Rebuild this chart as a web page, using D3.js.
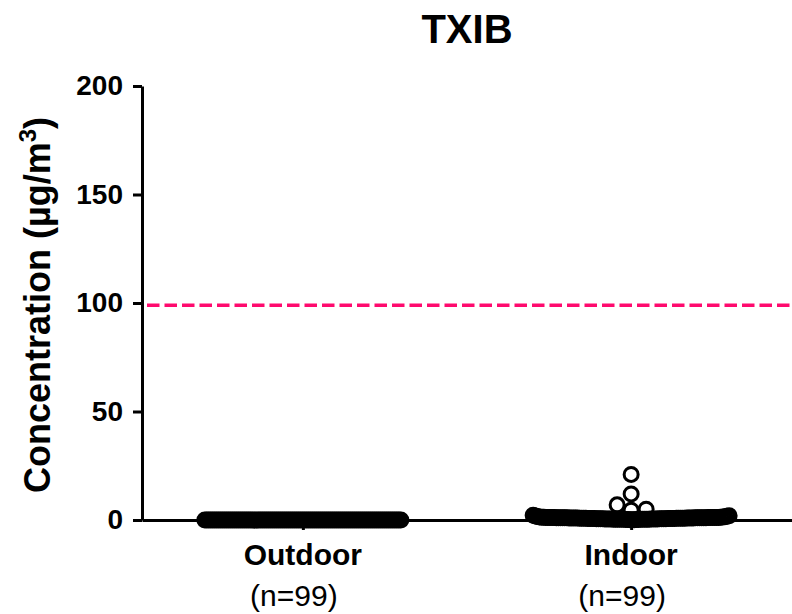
<!DOCTYPE html>
<html>
<head>
<meta charset="utf-8">
<script src="https://cdn.jsdelivr.net/npm/d3@7"></script>
<style>
  body { margin: 0; background: #fff; }
  svg { display: block; font-family: "Liberation Sans", Arial, sans-serif; }
</style>
</head>
<body>
<div id="chart"></div>
<script>
// Data
const title = "TXIB";
const categories = ["Outdoor", "Indoor"];
const sampleSizes = ["(n=99)", "(n=99)"];
const yTicks = [0, 50, 100, 150, 200];
const guideline = 99;

const outdoorValues = [
  0, 0, 0, 0, 0, 0, 0, 0, 0, 0,
  0, 0, 0, 0, 0, 0, 0, 0, 0, 0,
  0, 0, 0, 0, 0, 0, 0, 0, 0, 0,
  0, 0, 0, 0, 0, 0, 0, 0, 0, 0,
  0, 0, 0, 0, 0, 0, 0, 0, 0, 0,
  0, 0, 0, 0, 0, 0, 0, 0, 0, 0,
  0, 0, 0, 0, 0, 0, 0, 0, 0, 0,
  0, 0, 0, 0, 0, 0, 0, 0, 0, 0,
  0, 0, 0, 0, 0, 0, 0, 0, 0, 0,
  0, 0, 0, 0, 0, 0, 0, 0, 0
];

const indoorValues = [
  0.1, 0.1, 0.1, 0.2, 0.2, 0.2, 0.2, 0.3, 0.3, 0.3,
  0.3, 0.3, 0.4, 0.4, 0.4, 0.4, 0.4, 0.4, 0.5, 0.5,
  0.5, 0.5, 0.5, 0.5, 0.5, 0.5, 0.6, 0.6, 0.6, 0.6,
  0.6, 0.6, 0.6, 0.6, 0.7, 0.7, 0.7, 0.7, 0.7, 0.7,
  0.7, 0.7, 0.8, 0.8, 0.8, 0.8, 0.8, 0.8, 0.8, 0.8,
  0.8, 0.9, 0.9, 0.9, 0.9, 0.9, 0.9, 0.9, 0.9, 0.9,
  1.0, 1.0, 1.0, 1.0, 1.0, 1.0, 1.0, 1.0, 1.0, 1.0,
  1.0, 1.0, 1.1, 1.1, 1.1, 1.1, 1.1, 1.1, 1.1, 1.2,
  1.2, 1.2, 1.2, 1.3, 1.3, 1.3, 1.4, 1.4, 1.5, 1.6,
  1.7, 1.8, 2.0, 2.2,
  21, 12, 7, 5, 4.5
];

const groups = [outdoorValues, indoorValues];

// Canvas
const width = 792;
const height = 614;
const margin = { top: 86, right: 0, bottom: 94, left: 142 };
const plotLeft = margin.left;
const plotRight = width - margin.right;
const plotTop = margin.top;
const plotBottom = height - margin.bottom;

const svg = d3.select("#chart")
  .append("svg")
  .attr("width", width)
  .attr("height", height);

// Scales
const xScale = d3.scalePoint().domain(categories).range([plotLeft, plotRight]).padding(0.49);
const yScale = d3.scaleLinear().domain([0, 200]).range([plotBottom, plotTop]);

// Axes
const yAxis = svg.append("g")
  .attr("transform", `translate(${plotLeft},0)`)
  .call(d3.axisLeft(yScale).tickValues(yTicks).tickSize(9).tickSizeOuter(0).tickPadding(10));

const xAxis = svg.append("g")
  .attr("transform", `translate(0,${plotBottom})`)
  .call(d3.axisBottom(xScale).tickSize(10).tickSizeOuter(0).tickFormat(""));

[yAxis, xAxis].forEach(g => {
  g.select(".domain").attr("stroke", "#000").attr("stroke-width", 3);
  g.selectAll(".tick line").attr("stroke", "#000").attr("stroke-width", 3);
});

yAxis.selectAll(".tick text")
  .attr("font-family", "'Liberation Sans', Arial, sans-serif")
  .attr("font-size", 28)
  .attr("font-weight", "bold")
  .attr("fill", "#000");

// Category labels
categories.forEach((c, i) => {
  svg.append("text")
    .attr("x", xScale(c))
    .attr("y", 565)
    .attr("text-anchor", "middle")
    .attr("font-size", 30)
    .attr("font-weight", "bold")
    .text(c);
  svg.append("text")
    .attr("x", xScale(c) - 9)
    .attr("y", 606)
    .attr("text-anchor", "middle")
    .attr("font-size", 30)
    .text(sampleSizes[i]);
});

// Reference line
svg.append("line")
  .attr("x1", plotLeft + 5)
  .attr("x2", plotRight)
  .attr("y1", yScale(guideline))
  .attr("y2", yScale(guideline))
  .attr("stroke", "#ff0a6e")
  .attr("stroke-width", 3.5)
  .attr("stroke-dasharray", "12.5,5");

// Scatter dot layout: low values spread in one row, the rest avoid each other
const rowLimit = 3;
const rowWidth = 196;
const symbolGap = 15;

function swarm(values, cx) {
  const row = values.filter(v => v < rowLimit).sort(d3.ascending);
  const rest = values.filter(v => v >= rowLimit).sort(d3.ascending);
  const n = row.length;
  const mid = (n - 1) / 2;
  const step = rowWidth / (n - 1);
  const order = d3.range(n).sort((a, b) => Math.abs(a - mid) - Math.abs(b - mid) || b - a);
  const pts = row.map((v, i) => ({ v, x: cx + (order[i] - mid) * step, y: yScale(v) }));
  const placed = [];
  rest.forEach(v => {
    const y = yScale(v);
    let dx = 0;
    for (let k = 0; k < 200; k++) {
      dx = k === 0 ? 0 : (k % 2 ? 1 : -1) * Math.ceil(k / 2);
      const ok = placed.every(p => Math.hypot(cx + dx - p.x, y - p.y) >= symbolGap);
      if (ok) break;
    }
    placed.push({ v, x: cx + dx, y });
  });
  return pts.concat(placed);
}

categories.forEach((c, i) => {
  svg.append("g")
    .selectAll("circle")
    .data(swarm(groups[i], xScale(c)))
    .join("circle")
    .attr("cx", d => d.x)
    .attr("cy", d => d.y)
    .attr("r", 7)
    .attr("fill", "none")
    .attr("stroke", "#000")
    .attr("stroke-width", 3);
});

// Title
svg.append("text")
  .attr("x", (plotLeft + plotRight) / 2)
  .attr("y", 43)
  .attr("text-anchor", "middle")
  .attr("font-size", 40)
  .attr("font-weight", "bold")
  .text(title);

// Y axis label
const yLabel = svg.append("text")
  .attr("transform", "translate(50,493) rotate(-90)")
  .attr("text-anchor", "start")
  .attr("font-size", 36)
  .attr("font-weight", "bold");
yLabel.append("tspan").text("Concentration (µg/m");
yLabel.append("tspan").attr("font-size", 24).attr("dy", -14).text("3");
yLabel.append("tspan").attr("dy", 14).text(")");
</script>
</body>
</html>
